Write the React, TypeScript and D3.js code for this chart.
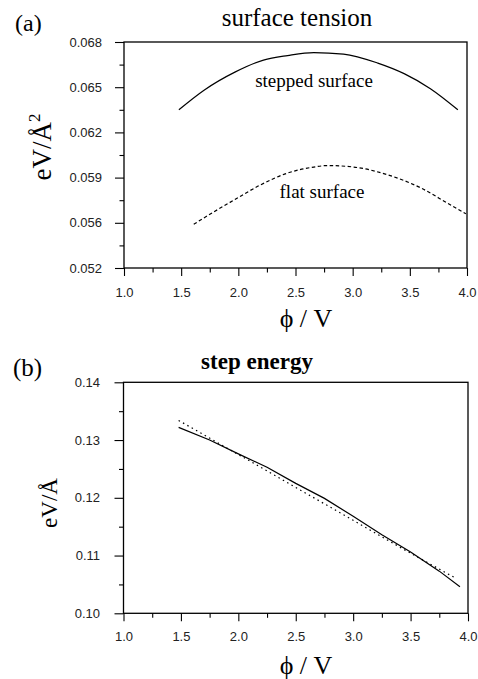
import React, { useRef, useEffect } from 'react';
import * as d3 from 'd3';

// x axis (both panels)
const phiTicks = [1.0, 1.5, 2.0, 2.5, 3.0, 3.5, 4.0];
const phiMinorTicks = [1.25, 1.75, 2.25, 2.75, 3.25, 3.75];

// panel (a) surface tension
const tensionTicks = [0.053, 0.056, 0.059, 0.062, 0.065, 0.068];
const tensionTickLabels = ['0.052', '0.056', '0.059', '0.062', '0.065', '0.068'];
const tensionMinorTicks = [0.0545, 0.0575, 0.0605, 0.0635, 0.0665];
const steppedPhi = [1.48, 1.7, 1.97, 2.22, 2.43, 2.66, 2.92, 3.22, 3.45, 3.68, 3.92];
const steppedTension = [0.0635, 0.0648, 0.066, 0.0668, 0.0671, 0.0673, 0.0672, 0.0666, 0.0659, 0.0649, 0.0635];
const flatPhi = [1.61, 1.78, 1.96, 2.19, 2.43, 2.66, 2.78, 3.01, 3.3, 3.6, 3.83, 3.99];
const flatTension = [0.0559, 0.0567, 0.0575, 0.0585, 0.0593, 0.0597, 0.0598, 0.0597, 0.0592, 0.0583, 0.0573, 0.0566];

// panel (b) step energy
const energyTicks = [0.1, 0.11, 0.12, 0.13, 0.14];
const energyTickLabels = ['0.10', '0.11', '0.12', '0.13', '0.14'];
const energyMinorTicks = [0.105, 0.115, 0.125, 0.135];
const solidPhi = [1.48, 1.75, 2.0, 2.25, 2.5, 2.75, 3.0, 3.25, 3.5, 3.75, 3.93];
const solidEnergy = [0.1322, 0.13, 0.1276, 0.1253, 0.1225, 0.1199, 0.1168, 0.1136, 0.1106, 0.1073, 0.1046];
const dottedPhi = [1.48, 2.0, 2.5, 3.0, 3.5, 3.9];
const dottedEnergy = [0.1334, 0.1275, 0.1218, 0.1161, 0.1104, 0.106];

const serif = '"Liberation Serif", "Times New Roman", serif';
const sans = '"Liberation Sans", Arial, sans-serif';

function drawPanel(svg, cfg) {
  const { left, right, top, bottom } = cfg;
  const x = d3.scaleLinear().domain([1, 4]).range([left, right]);
  const y = d3.scaleLinear().domain(cfg.yDomain).range([bottom, top]);

  const g = svg.append('g');

  // minor ticks
  g.append('g')
    .attr('transform', `translate(0,${bottom})`)
    .call(d3.axisBottom(x).tickValues(phiMinorTicks).tickSize(4.5).tickSizeOuter(0).tickFormat(() => ''));
  g.append('g')
    .attr('transform', `translate(${left},0)`)
    .call(d3.axisLeft(y).tickValues(cfg.yMinor).tickSize(4.5).tickSizeOuter(0).tickFormat(() => ''));

  // major ticks
  g.append('g')
    .attr('transform', `translate(0,${bottom})`)
    .call(d3.axisBottom(x).tickValues(phiTicks).tickSize(8).tickPadding(cfg.xPad).tickSizeOuter(0).tickFormat(d3.format('.1f')));
  g.append('g')
    .attr('transform', `translate(${left},0)`)
    .call(
      d3.axisLeft(y).tickValues(cfg.yTicks).tickSize(9).tickPadding(cfg.yPad).tickSizeOuter(0)
        .tickFormat((d, i) => cfg.yLabels[i])
    );

  g.selectAll('.domain').remove();
  g.selectAll('.tick line').attr('stroke', '#000').attr('stroke-width', 1.1);
  g.selectAll('.tick text').attr('font-family', sans).attr('font-size', 13).attr('fill', '#222');

  // frame
  g.append('rect')
    .attr('x', left).attr('y', top)
    .attr('width', right - left).attr('height', bottom - top)
    .attr('fill', 'none').attr('stroke', '#000').attr('stroke-width', 1.3);

  const line = d3.line().x(d => x(d[0])).y(d => y(d[1])).curve(cfg.curve || d3.curveLinear);
  cfg.series.forEach(s => {
    g.append('path')
      .datum(d3.zip(s.xs, s.ys))
      .attr('d', line)
      .attr('fill', 'none')
      .attr('stroke', '#000')
      .attr('stroke-width', 1.2)
      .attr('stroke-dasharray', s.dash || null);
  });

  return { x, y, g };
}

const App = () => {
  const svgRef = useRef(null);

  useEffect(() => {
    const svg = d3.select(svgRef.current);
    svg.selectAll('*').remove();

    // (a)
    drawPanel(svg, {
      left: 124, right: 467, top: 42, bottom: 268,
      yDomain: [0.053, 0.068],
      yTicks: tensionTicks, yLabels: tensionTickLabels, yMinor: tensionMinorTicks,
      xPad: 12, yPad: 13,
      curve: d3.curveMonotoneX,
      series: [
        { xs: steppedPhi, ys: steppedTension },
        { xs: flatPhi, ys: flatTension, dash: '3.5,2.5' },
      ],
    });

    svg.append('text').attr('x', 15).attr('y', 31).attr('font-family', serif).attr('font-size', 24).text('(a)');
    svg.append('text').attr('x', 297).attr('y', 26).attr('text-anchor', 'middle')
      .attr('font-family', serif).attr('font-size', 25).text('surface tension');
    svg.append('text').attr('x', 314).attr('y', 87).attr('text-anchor', 'middle')
      .attr('font-family', serif).attr('font-size', 19).text('stepped surface');
    svg.append('text').attr('x', 322).attr('y', 198).attr('text-anchor', 'middle')
      .attr('font-family', serif).attr('font-size', 19).text('flat surface');

    const ya = svg.append('text')
      .attr('transform', 'translate(51,147) rotate(-90)')
      .attr('text-anchor', 'middle')
      .attr('font-family', serif).attr('font-size', 27);
    ya.append('tspan').text('eV/Å');
    ya.append('tspan').attr('font-size', 17).attr('dy', -11).text('2');

    svg.append('text').attr('x', 306).attr('y', 327).attr('text-anchor', 'middle')
      .attr('font-family', serif).attr('font-size', 26).text('ϕ / V');

    // (b)
    drawPanel(svg, {
      left: 123.5, right: 468, top: 382.3, bottom: 613.3,
      yDomain: [0.1, 0.14],
      yTicks: energyTicks, yLabels: energyTickLabels, yMinor: energyMinorTicks,
      xPad: 10.7, yPad: 14.5,
      series: [
        { xs: solidPhi, ys: solidEnergy },
        { xs: dottedPhi, ys: dottedEnergy, dash: '1.5,3.5' },
      ],
    });

    svg.append('text').attr('x', 13).attr('y', 376).attr('font-family', serif).attr('font-size', 25).text('(b)');
    svg.append('text').attr('x', 257).attr('y', 369).attr('text-anchor', 'middle')
      .attr('font-family', serif).attr('font-size', 23).attr('font-weight', 'bold').text('step energy');

    svg.append('text')
      .attr('transform', 'translate(57,503) rotate(-90)')
      .attr('text-anchor', 'middle')
      .attr('font-family', serif).attr('font-size', 23)
      .text('eV/Å');

    svg.append('text').attr('x', 306).attr('y', 674).attr('text-anchor', 'middle')
      .attr('font-family', serif).attr('font-size', 26).text('ϕ / V');
  }, []);

  return (
    <svg
      ref={svgRef}
      width={478}
      height={679}
      style={{ position: 'absolute', left: 0, top: 0, background: '#fff' }}
    />
  );
};

export default App;
